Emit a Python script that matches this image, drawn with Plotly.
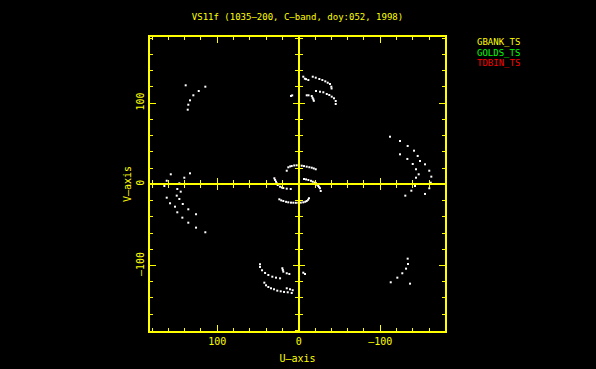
import plotly.graph_objects as go

title_text = "VS11f (1035—200, C—band, doy:052, 1998)"
x_title = "U—axis"
y_title = "V—axis"
legend_names = ["GBANK_TS", "GOLDS_TS", "TDBIN_TS"]
legend_colors = ["#ffff00", "#00ff00", "#ff0000"]

x_range = [182.5, -179.5]
y_range = [-180.7, 181.4]
tick_vals = [-100, 0, 100]
tick_text = ["—100", "0", "100"]

# u,v samples
u_vals = [
    # upper-left arc
    138.7, 114.6, 122.7, 129.3, 133.4, 135.5, 136.2,
    # upper centre arc 1
    -5.6, -7.5, -9.0, -11.8, -17.2, -20.9, -25.3, -29.0, -32.6, -35.6, -38.4, -40.0, -40.3,
    # upper centre arc 2
    -9.8, -12.0, -16.0, -17.0, -17.9, -18.5, -21.2, -26.1, -30.2, -34.4, -37.5, -40.5, -43.3, -45.4, -45.4,
    8.0, 9.5,
    # centre upper arc
    14.7, 12.8, 10.5, 8.6, 5.5, 2.5, -0.5, -3.7, -6.5, -9.8, -13.0, -16.0, -18.5, -20.9,
    # centre right arc
    -6.5, -9.0, -11.8, -15.0, -17.2, -19.5, -21.2, -22.5, -24.0, -25.0, -26.1, -27.0,
    # centre left arc
    29.9, 29.0, 27.9, 27.0, 25.8, 22.9, 20.5, 18.9, 14.7, 9.8,
    # centre lower arc
    23.8, 21.5, 18.9, 15.5, 12.8, 9.5, 6.6, 3.5, 0.5, -2.5, -5.6, -8.0, -9.8, -11.5, -12.6,
    # right outer arc
    -112.0, -124.3, -133.7, -141.5, -146.0, -148.8, -155.0, -160.2, -162.7, -162.0, -160.2, -155.0,
    # right inner arc
    -124.3, -133.3, -139.9, -143.9, -147.2, -143.9, -142.7, -138.2, -130.8,
    # left arcs
    157.0, 140.4, 133.4, 162.0, 146.5, 164.9, 149.0, 144.8, 149.7, 162.0, 146.5, 142.3, 157.9,
    151.8, 149.0, 135.5, 142.8, 135.5, 126.0, 126.0, 114.6,
    # lower centre arc A
    47.5, 47.5, 45.0, 41.3, 37.3, 32.4, 27.9, 22.9,
    20.1, 19.5, 18.9, 14.7, 11.5, -5.6, -7.7,
    # lower centre arc B
    42.2, 40.1, 37.3, 34.0, 30.3, 26.3, 22.1, 18.0, 13.5, 8.6, 14.7, 10.7, 7.4,
    # lower right arc
    -133.7, -134.1, -131.7, -127.1, -121.0, -112.9, -136.6,
]
v_vals = [
    121.9, 120.2, 114.9, 109.6, 103.4, 98.0, 91.9,
    132.5, 130.0, 129.5, 128.4, 132.5, 131.3, 129.7, 128.4, 126.8, 125.1, 123.5, 120.2, 118.0,
    109.6, 109.6, 108.7, 106.5, 104.7, 102.8, 114.9, 114.0, 113.3, 111.2, 110.0, 107.9, 105.9, 102.6, 98.9,
    109.5, 108.8,
    16.7, 20.9, 22.0, 22.5, 23.2, 23.4, 23.4, 22.9, 22.4, 21.7, 21.0, 20.4, 19.5, 18.5,
    6.5, 6.0, 5.3, 4.3, 3.2, 2.2, 1.2, -0.5, -2.1, -3.5, -4.9, -8.3,
    7.4, 5.3, 3.2, 1.2, -0.9, -3.0, -4.0, -4.6, -5.4, -5.8,
    -18.5, -19.8, -20.6, -21.6, -22.2, -22.6, -22.7, -22.8, -22.7, -22.6, -22.2, -21.5, -20.6, -19.0, -17.2,
    58.6, 53.3, 47.2, 41.4, 34.9, 28.7, 24.6, 16.7, 9.4, 2.0, -4.9, -11.9,
    36.9, 31.2, 25.0, 18.5, 12.3, 8.1, -2.1, -7.9, -14.0,
    12.3, 8.1, 13.5, 4.4, 1.2, -2.1, -5.8, -9.1, -14.0, -16.5, -18.1, -24.3, -23.4,
    -27.6, -34.5, -30.8, -41.1, -47.3, -36.9, -53.4, -59.1,
    -98.5, -101.8, -105.9, -109.2, -111.7, -113.8, -115.0, -115.8,
    -103.4, -105.5, -107.6, -109.6, -110.5, -108.9, -110.5,
    -121.2, -124.4, -126.5, -128.1, -129.3, -131.0, -131.8, -132.6, -133.0, -133.9, -128.1, -129.3, -130.5,
    -91.6, -98.2, -103.9, -109.6, -115.0, -120.7, -122.4,
]

YEL = "#ffff00"
FONT = "DejaVu Sans Mono"

fig = go.Figure()
fig.add_trace(go.Scatter(
    x=u_vals, y=v_vals, mode="markers",
    marker=dict(symbol="square", size=2, color="white", line=dict(width=0)),
    showlegend=False, hoverinfo="skip",
))

# zero-line positions derived from axis ranges
x_zero_frac = (0 - y_range[0]) / (y_range[1] - y_range[0])
y_zero_frac = (x_range[0] - 0) / (x_range[0] - x_range[1])

border = dict(
    showline=True, linecolor=YEL, linewidth=2, mirror="allticks",
    ticks="inside", ticklen=6, tickwidth=1, tickcolor=YEL,
    showgrid=False, zeroline=False, automargin=False,
    tickvals=tick_vals, ticktext=tick_text,
    tickfont=dict(family=FONT, size=10, color=YEL),
    minor=dict(dtick=20, tick0=0, ticks="inside", ticklen=3, tickcolor=YEL, tickwidth=1, showgrid=False),
)

fig.update_layout(
    width=596, height=369,
    paper_bgcolor="black", plot_bgcolor="black",
    margin=dict(l=150, r=151, t=37, b=38),
    showlegend=False,
    title=dict(text=title_text, x=0.5, xref="paper",
               y=1 - 16.5 / 369, yref="container", xanchor="center", yanchor="middle",
               font=dict(family=FONT, size=9, color=YEL)),
    xaxis=dict(range=x_range, title=dict(text=x_title, font=dict(family=FONT, size=10, color=YEL), standoff=9),
               **border),
    yaxis=dict(range=y_range, title=dict(text=y_title, font=dict(family=FONT, size=10, color=YEL), standoff=2),
               tickangle=-90, **border),
)

# axes through the origin with ticks on both sides
for i, side in ((3, "inside"), (4, "outside")):
    common = dict(showline=True, linecolor=YEL, linewidth=2, ticks=side, ticklen=5,
                  tickcolor=YEL, tickwidth=1, showticklabels=False, showgrid=False, zeroline=False,
                  tickvals=tick_vals,
                  minor=dict(dtick=20, tick0=0, ticks=side, ticklen=3, tickcolor=YEL, tickwidth=1, showgrid=False))
    fig.update_layout(**{
        f"xaxis{i}": dict(overlaying="x", anchor="free", position=x_zero_frac, range=x_range, **common),
        f"yaxis{i}": dict(overlaying="y", anchor="free", position=y_zero_frac, range=y_range, **common),
    })
    fig.add_trace(go.Scatter(x=[None], y=[None], xaxis=f"x{i}", yaxis=f"y{i}",
                             showlegend=False, hoverinfo="skip"))

for k, (name, col) in enumerate(zip(legend_names, legend_colors)):
    fig.add_annotation(text=name, xref="paper", yref="paper", x=(475 - 150) / 295, xanchor="left",
                       y=(331 - (42.5 + 10 * k)) / 294, yanchor="middle", showarrow=False,
                       font=dict(family=FONT, size=9, color=col))

fig.write_html("out.html")
